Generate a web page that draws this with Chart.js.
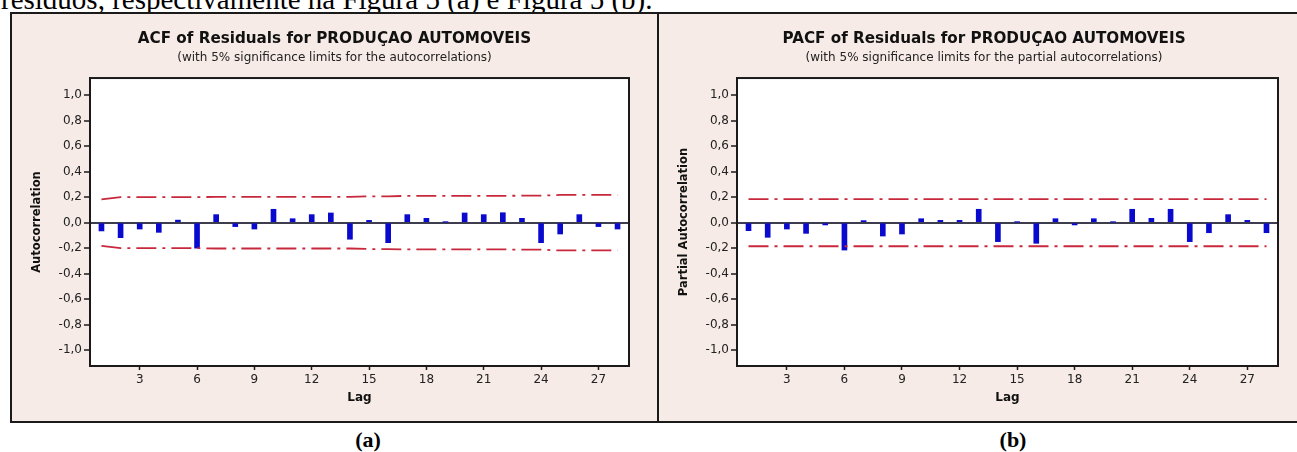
<!DOCTYPE html>
<html>
<head>
<meta charset="utf-8">
<script src="https://cdn.jsdelivr.net/npm/chart.js@4/dist/chart.umd.min.js"></script>
<style>
  html, body { margin: 0; padding: 0; background: #fff; width: 1297px; height: 452px; overflow: hidden; position: relative; }
  .lead { position: absolute; left: 1px; top: -15px; font: 29px/29px "Liberation Serif", "Times New Roman", serif; white-space: nowrap; color: #000; }
  .panel { position: absolute; top: 12px; height: 407px; background: #f6ebe6; border: 2px solid #1a1a1a; }
  #panelA { left: 10px; width: 645px; }
  #panelB { left: 657px; width: 650px; }
  .panel canvas { position: absolute; left: 0; top: 0; }
  .cap { position: absolute; top: 428px; font: bold 22px/24px "Liberation Serif", "Times New Roman", serif; color: #000; transform: translateX(-50%); }
</style>
</head>
<body>
<div class="lead">resíduos, respectivamente na Figura 5 (a) e Figura 5 (b).</div>
<div class="panel" id="panelA"><canvas id="acf" width="645" height="407"></canvas></div>
<div class="panel" id="panelB"><canvas id="pacf" width="650" height="407"></canvas></div>
<div class="cap" style="left:368px">(a)</div>
<div class="cap" style="left:1013px">(b)</div>
<script>
// Lags and residual correlations
const lags = [1, 2, 3, 4, 5, 6, 7, 8, 9, 10, 11, 12, 13, 14, 15, 16, 17, 18, 19, 20, 21, 22, 23, 24, 25, 26, 27, 28];
const acfValues = [-0.065, -0.118, -0.05, -0.076, 0.02, -0.2, 0.063, -0.031, -0.05, 0.105, 0.031, 0.063, 0.076, -0.13,
                   0.018, -0.157, 0.063, 0.034, 0.004, 0.076, 0.063, 0.078, 0.034, -0.157, -0.089, 0.063, -0.031, -0.05];
const pacfValues = [-0.063, -0.115, -0.05, -0.084, -0.018, -0.215, 0.016, -0.105, -0.089, 0.031, 0.018, 0.018, 0.105, -0.149,
                    0.004, -0.162, 0.031, -0.018, 0.031, 0.004, 0.105, 0.034, 0.105, -0.149, -0.079, 0.063, 0.018, -0.079];
// 5% significance limits (upper bound; lower bound is its negative)
const acfLimits = [0.183, 0.2, 0.2, 0.2, 0.2, 0.2, 0.203, 0.203, 0.203, 0.203, 0.203, 0.203, 0.203, 0.203,
                   0.207, 0.207, 0.21, 0.21, 0.21, 0.21, 0.21, 0.21, 0.212, 0.212, 0.218, 0.218, 0.218, 0.218];
const pacfLimit = 0.185;
// Axis ticks
const lagTicks = [3, 6, 9, 12, 15, 18, 21, 24, 27];
const corrTicks = [-1, -0.8, -0.6, -0.4, -0.2, 0, 0.2, 0.4, 0.6, 0.8, 1];

const FONT = '"DejaVu Sans", Tahoma, Verdana, sans-serif';
const BAR_BLUE = '#0a0acf';
const LIMIT_RED = '#c8283c';

// White plot background and dark frame around the plotting region
const plotFrame = {
  id: 'plotFrame',
  beforeDraw(chart) {
    const { ctx, chartArea: a } = chart;
    ctx.save();
    ctx.fillStyle = '#ffffff';
    ctx.fillRect(a.left, a.top, a.right - a.left, a.bottom - a.top);
    ctx.restore();
  },
  afterDraw(chart) {
    const { ctx, chartArea: a } = chart;
    ctx.save();
    ctx.strokeStyle = '#1a1a1a';
    ctx.lineWidth = 2;
    ctx.strokeRect(a.left, a.top, a.right - a.left, a.bottom - a.top);
    ctx.restore();
  }
};

function limitLine(values) {
  return {
    type: 'line',
    data: lags.map((l, i) => ({ x: l, y: values[i] })),
    borderColor: LIMIT_RED,
    borderWidth: 1.8,
    borderDash: [20, 6, 3, 6],
    pointRadius: 0,
    tension: 0,
    fill: false,
    order: 1
  };
}

function corrChart(canvasId, cfg) {
  return new Chart(document.getElementById(canvasId), {
    type: 'bar',
    data: {
      datasets: [
        {
          type: 'bar',
          data: lags.map((l, i) => ({ x: l, y: cfg.values[i] })),
          backgroundColor: BAR_BLUE,
          barThickness: 5,
          order: 2
        },
        limitLine(cfg.upper),
        limitLine(cfg.upper.map(v => -v))
      ]
    },
    options: {
      responsive: false,
      animation: false,
      events: [],
      layout: { padding: 0 },
      plugins: {
        legend: { display: false },
        tooltip: { enabled: false },
        title: {
          display: true,
          text: cfg.title,
          color: '#111',
          font: { family: FONT, size: 15.2, weight: 'bold', lineHeight: 1.2 },
          padding: { top: 16, bottom: 0 }
        },
        subtitle: {
          display: true,
          text: cfg.subtitle,
          color: '#222',
          font: { family: FONT, size: 12, lineHeight: 1.2 },
          padding: { top: 2, bottom: 13.4 }
        }
      },
      scales: {
        x: {
          type: 'linear',
          min: 0.4,
          max: 28.6,
          offset: false,
          afterBuildTicks: s => { s.ticks = lagTicks.map(v => ({ value: v })); },
          afterFit: s => { s.height = 55; },
          grid: { offset: false, drawOnChartArea: false, drawTicks: true, tickLength: 4, tickColor: '#1a1a1a', tickWidth: 1.5 },
          border: { display: true, color: '#1a1a1a', width: 2 },
          ticks: { color: '#222', font: { family: FONT, size: 12 }, padding: 3, maxRotation: 0, autoSkip: false },
          title: {
            display: true, text: 'Lag', color: '#111',
            font: { family: FONT, size: 12, weight: 'bold', lineHeight: 1.1 },
            padding: { top: 0, bottom: 17 }
          }
        },
        y: {
          min: -1.125,
          max: 1.135,
          afterBuildTicks: s => { s.ticks = corrTicks.map(v => ({ value: v })); },
          afterFit: s => { s.width = 78; },
          grid: {
            offset: false,
            drawOnChartArea: true,
            color: c => (c.tick && c.tick.value === 0 ? '#3d3d4d' : 'rgba(0,0,0,0)'),
            lineWidth: 2,
            drawTicks: true, tickLength: 6, tickColor: '#1a1a1a', tickWidth: 1.5
          },
          border: { display: true, color: '#1a1a1a', width: 2 },
          ticks: {
            color: '#222', font: { family: FONT, size: 12 }, padding: 2,
            callback: v => v.toFixed(1).replace('.', ',')
          },
          title: {
            display: true, text: cfg.yTitle, color: '#111',
            font: { family: FONT, size: 11.5, weight: 'bold', lineHeight: 1.1 },
            padding: { top: 19, bottom: 0 }
          }
        },
        // empty right-hand gutter so the plot ends where the frame requires
        gutter: {
          position: 'right',
          display: true,
          afterFit: s => { s.width = cfg.rightGutter; },
          grid: { display: false },
          border: { display: false },
          ticks: { display: false }
        }
      }
    },
    plugins: [plotFrame]
  });
}

corrChart('acf', {
  values: acfValues,
  upper: acfLimits,
  title: 'ACF of Residuals for PRODUÇAO AUTOMOVEIS',
  subtitle: '(with 5% significance limits for the autocorrelations)',
  yTitle: 'Autocorrelation',
  rightGutter: 28
});

corrChart('pacf', {
  values: pacfValues,
  upper: lags.map(() => pacfLimit),
  title: 'PACF of Residuals for PRODUÇAO AUTOMOVEIS',
  subtitle: '(with 5% significance limits for the partial autocorrelations)',
  yTitle: 'Partial Autocorrelation',
  rightGutter: 31
});
</script>
</body>
</html>
